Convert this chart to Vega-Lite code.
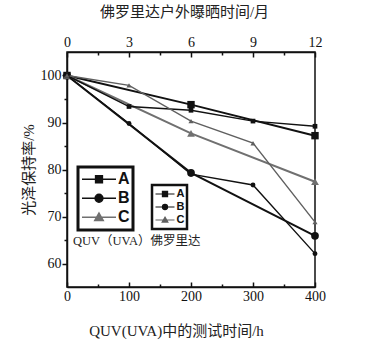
{
  "$schema": "https://vega.github.io/schema/vega-lite/v6.json",
  "width": 248,
  "height": 235,
  "autosize": {"type": "none"},
  "padding": {"left": 67, "top": 52, "right": 56, "bottom": 65},
  "background": "white",
  "config": {
    "view": {"stroke": "#111", "strokeWidth": 1.5},
    "axis": {
      "domainColor": "#111", "domainWidth": 1.5,
      "tickColor": "#111", "tickWidth": 1.5,
      "labelFont": "Liberation Serif", "labelFontSize": 14, "labelColor": "#111",
      "titleFont": "Liberation Serif, Noto Sans CJK SC", "titleFontSize": 15, "titleFontWeight": "normal", "titleColor": "#222",
      "grid": false, "labelFlush": false, "labelOverlap": false
    },
    "legend": {"labelFont": "Liberation Sans", "labelFontWeight": "bold", "labelColor": "#111", "strokeColor": "#111111", "strokeWidth": 2.5, "fillColor": "#ffffff"}
  },
  "datasets": {
    "quv": [
      {"sample": "A", "hours": 0, "gloss": 100}, {"sample": "A", "hours": 200, "gloss": 93.8}, {"sample": "A", "hours": 400, "gloss": 87.2},
      {"sample": "B", "hours": 0, "gloss": 100}, {"sample": "B", "hours": 200, "gloss": 79.3}, {"sample": "B", "hours": 400, "gloss": 65.9},
      {"sample": "C", "hours": 0, "gloss": 100}, {"sample": "C", "hours": 200, "gloss": 87.7}, {"sample": "C", "hours": 400, "gloss": 77.4}
    ],
    "florida": [
      {"sample": "A", "months": 0, "gloss": 100}, {"sample": "A", "months": 3, "gloss": 93.4}, {"sample": "A", "months": 6, "gloss": 92.6}, {"sample": "A", "months": 9, "gloss": 90.3}, {"sample": "A", "months": 12, "gloss": 89.2},
      {"sample": "B", "months": 0, "gloss": 100}, {"sample": "B", "months": 3, "gloss": 89.8}, {"sample": "B", "months": 6, "gloss": 79.0}, {"sample": "B", "months": 9, "gloss": 76.7}, {"sample": "B", "months": 12, "gloss": 62.1},
      {"sample": "C", "months": 0, "gloss": 100}, {"sample": "C", "months": 3, "gloss": 97.9}, {"sample": "C", "months": 6, "gloss": 90.3}, {"sample": "C", "months": 9, "gloss": 85.6}, {"sample": "C", "months": 12, "gloss": 68.8}
    ],
    "note": [
      {"hours": 9.7, "gloss": 64.7, "label": "QUV（UVA）佛罗里达"}
    ]
  },
  "encoding": {
    "y": {
      "field": "gloss", "type": "quantitative",
      "scale": {"domain": [55, 105], "nice": false, "zero": false},
      "axis": {
        "orient": "left",
        "values": [60, 65, 70, 75, 80, 85, 90, 95, 100],
        "labelExpr": "datum.value % 10 === 0 ? datum.label : ''",
        "tickSize": {"condition": {"test": "datum.value % 10 === 0", "value": 5}, "value": 3},
        "labelPadding": 1,
        "title": "光泽保持率/%",
        "titlePadding": 4
      }
    }
  },
  "layer": [
    {
      "data": {"name": "quv"},
      "encoding": {
        "x": {
          "field": "hours", "type": "quantitative",
          "scale": {"domain": [0, 400], "nice": false, "zero": false},
          "axis": {
            "orient": "bottom",
            "values": [0, 50, 100, 150, 200, 250, 300, 350, 400],
            "labelExpr": "datum.value % 100 === 0 ? datum.label : ''",
            "tickSize": {"condition": {"test": "datum.value % 100 === 0", "value": -5}, "value": -3},
            "labelPadding": 7,
            "title": "QUV(UVA)中的测试时间/h",
            "titlePadding": 18,
            "titleX": 109
          }
        },
        "color": {
          "field": "sample", "type": "nominal",
          "scale": {"domain": ["A", "B", "C"], "range": ["#111111", "#111111", "#707070"]},
          "legend": {
            "orient": "none", "legendX": 11, "legendY": 115,
            "title": null,
            "strokeColor": "#111111",
            "fillColor": "#ffffff",
            "padding": 3,
            "symbolSize": 1156,
            "clipHeight": 18.5,
            "rowPadding": 0,
            "labelFontSize": 16,
            "labelOffset": 1,
            "encode": {
              "legend": {"update": {"stroke": {"value": "#111111"}, "strokeWidth": {"value": 3}}},
              "symbols": {
                "update": {
                  "shape": {"signal": "datum.value === 'A' ? 'M-1,0H1M-0.2,-0.2H0.2V0.2H-0.2Z' : datum.value === 'B' ? 'M-1,0H1M0.23,0A0.23,0.23,0,1,1,-0.23,0A0.23,0.23,0,1,1,0.23,0Z' : 'M-1,0H1M0,-0.25L0.25,0.19L-0.25,0.19Z'"},
                  "fill": {"signal": "datum.value === 'C' ? '#707070' : '#111111'"},
                  "stroke": {"signal": "datum.value === 'C' ? '#707070' : '#111111'"},
                  "strokeWidth": {"value": 1.5},
                  "opacity": {"value": 1}
                }
              }
            }
          }
        }
      },
      "layer": [
        {"mark": {"type": "line", "strokeWidth": 2}},
        {"transform": [{"filter": "datum.sample === 'A'"}], "mark": {"type": "point", "shape": "square", "filled": true, "size": 55, "opacity": 1}},
        {"transform": [{"filter": "datum.sample === 'B'"}], "mark": {"type": "point", "shape": "circle", "filled": true, "size": 60, "opacity": 1}},
        {"transform": [{"filter": "datum.sample === 'C'"}], "mark": {"type": "point", "shape": "triangle-up", "filled": true, "size": 60, "opacity": 1}},
        {
          "data": {"name": "note"},
          "mark": {"type": "text", "align": "left", "baseline": "middle", "font": "Liberation Serif, Noto Sans CJK SC", "fontSize": 12.5},
          "encoding": {
            "x": {"field": "hours", "type": "quantitative"},
            "text": {"field": "label"},
            "color": {"value": "#222222"}
          }
        }
      ]
    },
    {
      "data": {"name": "florida"},
      "encoding": {
        "x": {
          "field": "months", "type": "quantitative",
          "scale": {"domain": [0, 12], "nice": false, "zero": false},
          "axis": {
            "orient": "top",
            "values": [0, 1.5, 3, 4.5, 6, 7.5, 9, 10.5, 12],
            "labelExpr": "datum.value % 3 === 0 ? datum.label : ''",
            "tickSize": {"condition": {"test": "datum.value % 3 === 0", "value": -5}, "value": -3},
            "labelPadding": 8,
            "title": "佛罗里达户外曝晒时间/月",
            "titlePadding": 14,
            "titleX": 117
          }
        },
        "color": {
          "field": "sample", "type": "nominal",
          "scale": {"domain": ["A", "B", "C"], "range": ["#111111", "#111111", "#606060"]},
          "legend": {
            "orient": "none", "legendX": 85, "legendY": 133,
            "title": null,
            "strokeColor": "#111111",
            "fillColor": "#ffffff",
            "padding": 2.5,
            "symbolSize": 361,
            "clipHeight": 13,
            "rowPadding": 0,
            "labelFontSize": 11,
            "labelOffset": 1,
            "encode": {
              "legend": {"update": {"stroke": {"value": "#111111"}, "strokeWidth": {"value": 2.5}}},
              "symbols": {
                "update": {
                  "shape": {"signal": "datum.value === 'A' ? 'M-1,0H1M-0.27,-0.27H0.27V0.27H-0.27Z' : datum.value === 'B' ? 'M-1,0H1M0.27,0A0.27,0.27,0,1,1,-0.27,0A0.27,0.27,0,1,1,0.27,0Z' : 'M-1,0H1M0,-0.3L0.3,0.22L-0.3,0.22Z'"},
                  "fill": {"signal": "datum.value === 'C' ? '#606060' : '#111111'"},
                  "stroke": {"signal": "datum.value === 'C' ? '#606060' : '#111111'"},
                  "strokeWidth": {"value": 1.2},
                  "opacity": {"value": 1}
                }
              }
            }
          }
        }
      },
      "layer": [
        {"mark": {"type": "line", "strokeWidth": 1.4}},
        {"transform": [{"filter": "datum.sample === 'A'"}], "mark": {"type": "point", "shape": "square", "filled": true, "size": 22, "opacity": 1}},
        {"transform": [{"filter": "datum.sample === 'B'"}], "mark": {"type": "point", "shape": "circle", "filled": true, "size": 24, "opacity": 1}},
        {"transform": [{"filter": "datum.sample === 'C'"}], "mark": {"type": "point", "shape": "triangle-up", "filled": true, "size": 26, "opacity": 1}}
      ]
    }
  ],
  "resolve": {"scale": {"x": "independent", "color": "independent"}}
}
